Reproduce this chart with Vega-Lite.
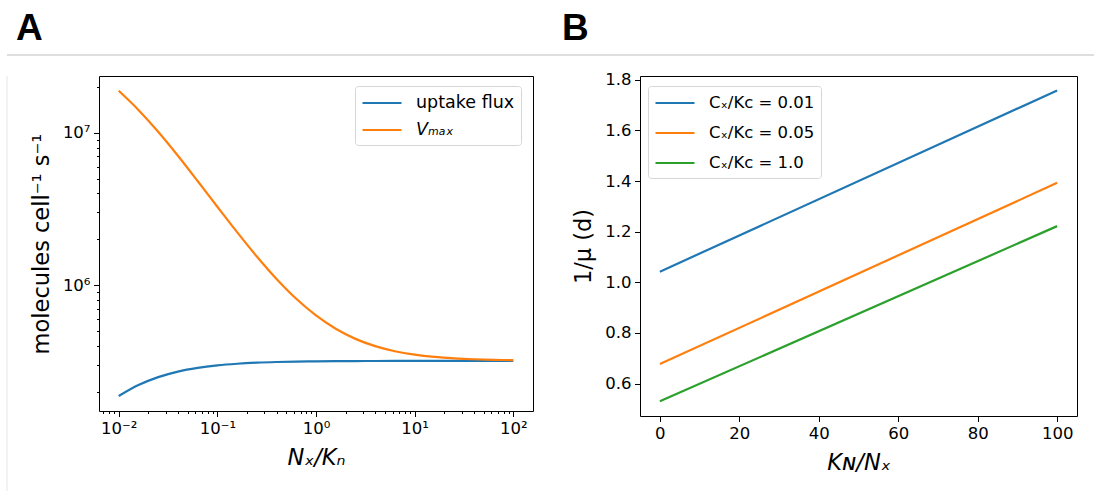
{
  "$schema": "https://vega.github.io/schema/vega-lite/v6.json",
  "padding": {"top": 10, "left": 6, "right": 0, "bottom": 0},
  "background": "#ffffff",
  "datasets": {
    "fluxA": [
      {"x": 0.01, "v": 187100, "s": "uptake flux"},
      {"x": 0.015849, "v": 220600, "s": "uptake flux"},
      {"x": 0.025119, "v": 248700, "s": "uptake flux"},
      {"x": 0.039811, "v": 270500, "s": "uptake flux"},
      {"x": 0.063096, "v": 286200, "s": "uptake flux"},
      {"x": 0.1, "v": 297200, "s": "uptake flux"},
      {"x": 0.15849, "v": 304500, "s": "uptake flux"},
      {"x": 0.25119, "v": 309400, "s": "uptake flux"},
      {"x": 0.39811, "v": 312500, "s": "uptake flux"},
      {"x": 0.63096, "v": 314500, "s": "uptake flux"},
      {"x": 1, "v": 315800, "s": "uptake flux"},
      {"x": 1.5849, "v": 316600, "s": "uptake flux"},
      {"x": 2.5119, "v": 317100, "s": "uptake flux"},
      {"x": 3.9811, "v": 317400, "s": "uptake flux"},
      {"x": 6.3096, "v": 317600, "s": "uptake flux"},
      {"x": 10, "v": 317800, "s": "uptake flux"},
      {"x": 15.849, "v": 317860, "s": "uptake flux"},
      {"x": 25.119, "v": 317900, "s": "uptake flux"},
      {"x": 39.811, "v": 317940, "s": "uptake flux"},
      {"x": 63.096, "v": 317960, "s": "uptake flux"},
      {"x": 100, "v": 317980, "s": "uptake flux"},
      {"x": 0.01, "v": 18890000, "s": "Vₘₐₓ"},
      {"x": 0.015849, "v": 14138000, "s": "Vₘₐₓ"},
      {"x": 0.025119, "v": 10149000, "s": "Vₘₐₓ"},
      {"x": 0.039811, "v": 7064000, "s": "Vₘₐₓ"},
      {"x": 0.063096, "v": 4823000, "s": "Vₘₐₓ"},
      {"x": 0.1, "v": 3269000, "s": "Vₘₐₓ"},
      {"x": 0.15849, "v": 2226000, "s": "Vₘₐₓ"},
      {"x": 0.25119, "v": 1541000, "s": "Vₘₐₓ"},
      {"x": 0.39811, "v": 1097500, "s": "Vₘₐₓ"},
      {"x": 0.63096, "v": 813000, "s": "Vₘₐₓ"},
      {"x": 1, "v": 631600, "s": "Vₘₐₓ"},
      {"x": 1.5849, "v": 516400, "s": "Vₘₐₓ"},
      {"x": 2.5119, "v": 443400, "s": "Vₘₐₓ"},
      {"x": 3.9811, "v": 397200, "s": "Vₘₐₓ"},
      {"x": 6.3096, "v": 368000, "s": "Vₘₐₓ"},
      {"x": 10, "v": 349600, "s": "Vₘₐₓ"},
      {"x": 15.849, "v": 337900, "s": "Vₘₐₓ"},
      {"x": 25.119, "v": 330600, "s": "Vₘₐₓ"},
      {"x": 39.811, "v": 325900, "s": "Vₘₐₓ"},
      {"x": 63.096, "v": 323000, "s": "Vₘₐₓ"},
      {"x": 100, "v": 321200, "s": "Vₘₐₓ"}
    ],
    "growthB": [
      {"k": 0, "inv": 1.042, "s": "Cₓ/Kᴄ = 0.01"},
      {"k": 100, "inv": 1.758, "s": "Cₓ/Kᴄ = 0.01"},
      {"k": 0, "inv": 0.677, "s": "Cₓ/Kᴄ = 0.05"},
      {"k": 100, "inv": 1.393, "s": "Cₓ/Kᴄ = 0.05"},
      {"k": 0, "inv": 0.530, "s": "Cₓ/Kᴄ = 1.0"},
      {"k": 100, "inv": 1.222, "s": "Cₓ/Kᴄ = 1.0"}
    ]
  },
  "vconcat": [
    {
      "hconcat": [
        {
          "width": 555, "height": 1,
          "view": {"stroke": null},
          "title": {"text": "A", "dx": 9},
          "data": {"values": [{}]},
          "mark": {"type": "rule", "color": "#bdbdbd", "strokeWidth": 1.2},
          "encoding": {"y": {"datum": 0, "type": "quantitative", "scale": {"domain": [0, 1]}, "axis": null}}
        },
        {
          "width": 540, "height": 1,
          "view": {"stroke": null},
          "title": {"text": "B", "dx": 0},
          "data": {"values": [{}]},
          "mark": {"type": "rule", "color": "#bdbdbd", "strokeWidth": 1.2},
          "encoding": {"y": {"datum": 0, "type": "quantitative", "scale": {"domain": [0, 1]}, "axis": null}}
        }
      ],
      "spacing": 0,
      "bounds": "flush"
    },
    {
      "hconcat": [
        {
          "width": 22, "height": 420,
          "view": {"stroke": null},
          "data": {"values": [{}]},
          "mark": {"type": "rule", "color": "#e6e6e6", "strokeWidth": 1},
          "encoding": {"x": {"datum": 0, "type": "quantitative", "scale": {"domain": [0, 1]}, "axis": null}}
        },
        {
          "hconcat": [
            {
              "width": 434, "height": 335,
              "view": {"stroke": "#000", "strokeWidth": 1},
              "data": {"name": "fluxA"},
              "resolve": {"axis": {"x": "independent", "y": "independent"}},
              "layer": [
                {
                  "mark": {"type": "line", "strokeWidth": 2.2, "clip": true, "interpolate": "monotone"},
                  "encoding": {
                    "x": {"field": "x", "type": "quantitative",
                      "scale": {"type": "log", "domain": [0.0063096, 158.489], "nice": false},
                      "axis": {"orient": "bottom", "values": [0.01, 0.1, 1, 10, 100],
                        "labelExpr": "datum.value < 0.05 ? '10⁻²' : datum.value < 0.5 ? '10⁻¹' : datum.value < 5 ? '10⁰' : datum.value < 50 ? '10¹' : '10²'",
                        "title": "Nₓ/Kₙ", "titleFontStyle": "italic", "titlePadding": 10, "labelFlush": false}},
                    "y": {"field": "v", "type": "quantitative",
                      "scale": {"type": "log", "domain": [149000, 23600000], "nice": false, "zero": false},
                      "axis": {"orient": "left", "values": [1000000, 10000000],
                        "labelExpr": "datum.value > 5000000 ? '10⁷' : '10⁶'",
                        "title": "molecules cell⁻¹ s⁻¹", "titlePadding": 9}},
                    "color": {"field": "s", "type": "nominal",
                      "scale": {"domain": ["uptake flux", "Vₘₐₓ"], "range": ["#1f77b4", "#ff7f0e"]},
                      "legend": {"orient": "none", "legendX": 256, "legendY": 10, "title": null, "labelFontSize": 17.5, "rowPadding": 7,
                        "encode": {"labels": {"update": {"fontStyle": {"signal": "datum.value === 'Vₘₐₓ' ? 'italic' : 'normal'"}}}}}}
                  }
                },
                {
                  "mark": {"type": "line", "opacity": 0},
                  "encoding": {
                    "x": {"field": "x", "type": "quantitative",
                      "axis": {"orient": "bottom", "values": [0.007, 0.008, 0.009, 0.02, 0.03, 0.04, 0.05, 0.06, 0.07, 0.08, 0.09, 0.2, 0.3, 0.4, 0.5, 0.6, 0.7, 0.8, 0.9, 2, 3, 4, 5, 6, 7, 8, 9, 20, 30, 40, 50, 60, 70, 80, 90],
                        "labels": false, "tickSize": 2.5, "title": null}},
                    "y": {"field": "v", "type": "quantitative",
                      "axis": {"orient": "left", "values": [200000, 300000, 400000, 500000, 600000, 700000, 800000, 900000, 2000000, 3000000, 4000000, 5000000, 6000000, 7000000, 8000000, 9000000, 20000000],
                        "labels": false, "tickSize": 2.5, "title": null}}
                  }
                }
              ]
            },
            {
              "width": 437, "height": 340,
              "view": {"stroke": "#000", "strokeWidth": 1},
              "data": {"name": "growthB"},
              "mark": {"type": "line", "strokeWidth": 2.2},
              "encoding": {
                "x": {"field": "k", "type": "quantitative",
                  "scale": {"domain": [-5, 105], "nice": false, "zero": false},
                  "axis": {"values": [0, 20, 40, 60, 80, 100], "title": "Kɴ/Nₓ", "titleFontStyle": "italic", "titlePadding": 10, "labelFlush": false}},
                "y": {"field": "inv", "type": "quantitative",
                  "scale": {"domain": [0.472, 1.815], "nice": false, "zero": false},
                  "axis": {"values": [0.6, 0.8, 1.0, 1.2, 1.4, 1.6, 1.8], "format": ".1f", "title": "1/μ (d)", "titlePadding": 9, "labelFlush": false}},
                "color": {"field": "s", "type": "nominal",
                  "scale": {"domain": ["Cₓ/Kᴄ = 0.01", "Cₓ/Kᴄ = 0.05", "Cₓ/Kᴄ = 1.0"], "range": ["#1f77b4", "#ff7f0e", "#2ca02c"]},
                  "legend": {"orient": "none", "legendX": 8, "legendY": 10, "title": null, "labelFontSize": 16.5, "rowPadding": 10}}
              }
            }
          ],
          "spacing": 38,
          "resolve": {"scale": {"color": "independent"}, "legend": {"color": "independent"}}
        }
      ],
      "spacing": 0,
      "resolve": {"scale": {"color": "independent"}}
    }
  ],
  "spacing": 15,
  "resolve": {"scale": {"color": "independent"}},
  "config": {
    "font": "DejaVu Sans",
    "title": {"font": "Liberation Sans", "fontSize": 37, "fontWeight": "bold", "color": "#000", "anchor": "start", "frame": "group", "offset": 6, "baseline": "alphabetic"},
    "axis": {"labelFont": "DejaVu Sans", "labelFontSize": 16.5, "labelColor": "#000", "tickColor": "#000", "tickWidth": 1, "tickSize": 5.5, "labelPadding": 3.5, "domain": false, "grid": false, "titleFont": "DejaVu Sans", "titleFontSize": 22.5, "titleFontWeight": "normal", "titleColor": "#000"},
    "legend": {"labelFont": "DejaVu Sans", "labelFontSize": 16, "labelColor": "#000", "symbolType": "M-2,0H2", "symbolStrokeWidth": 2.2, "symbolSize": 380, "symbolOffset": 10, "strokeColor": "#d6d6d6", "fillColor": "#ffffff", "cornerRadius": 3, "padding": 6, "labelOffset": 23, "rowPadding": 8}
  }
}
